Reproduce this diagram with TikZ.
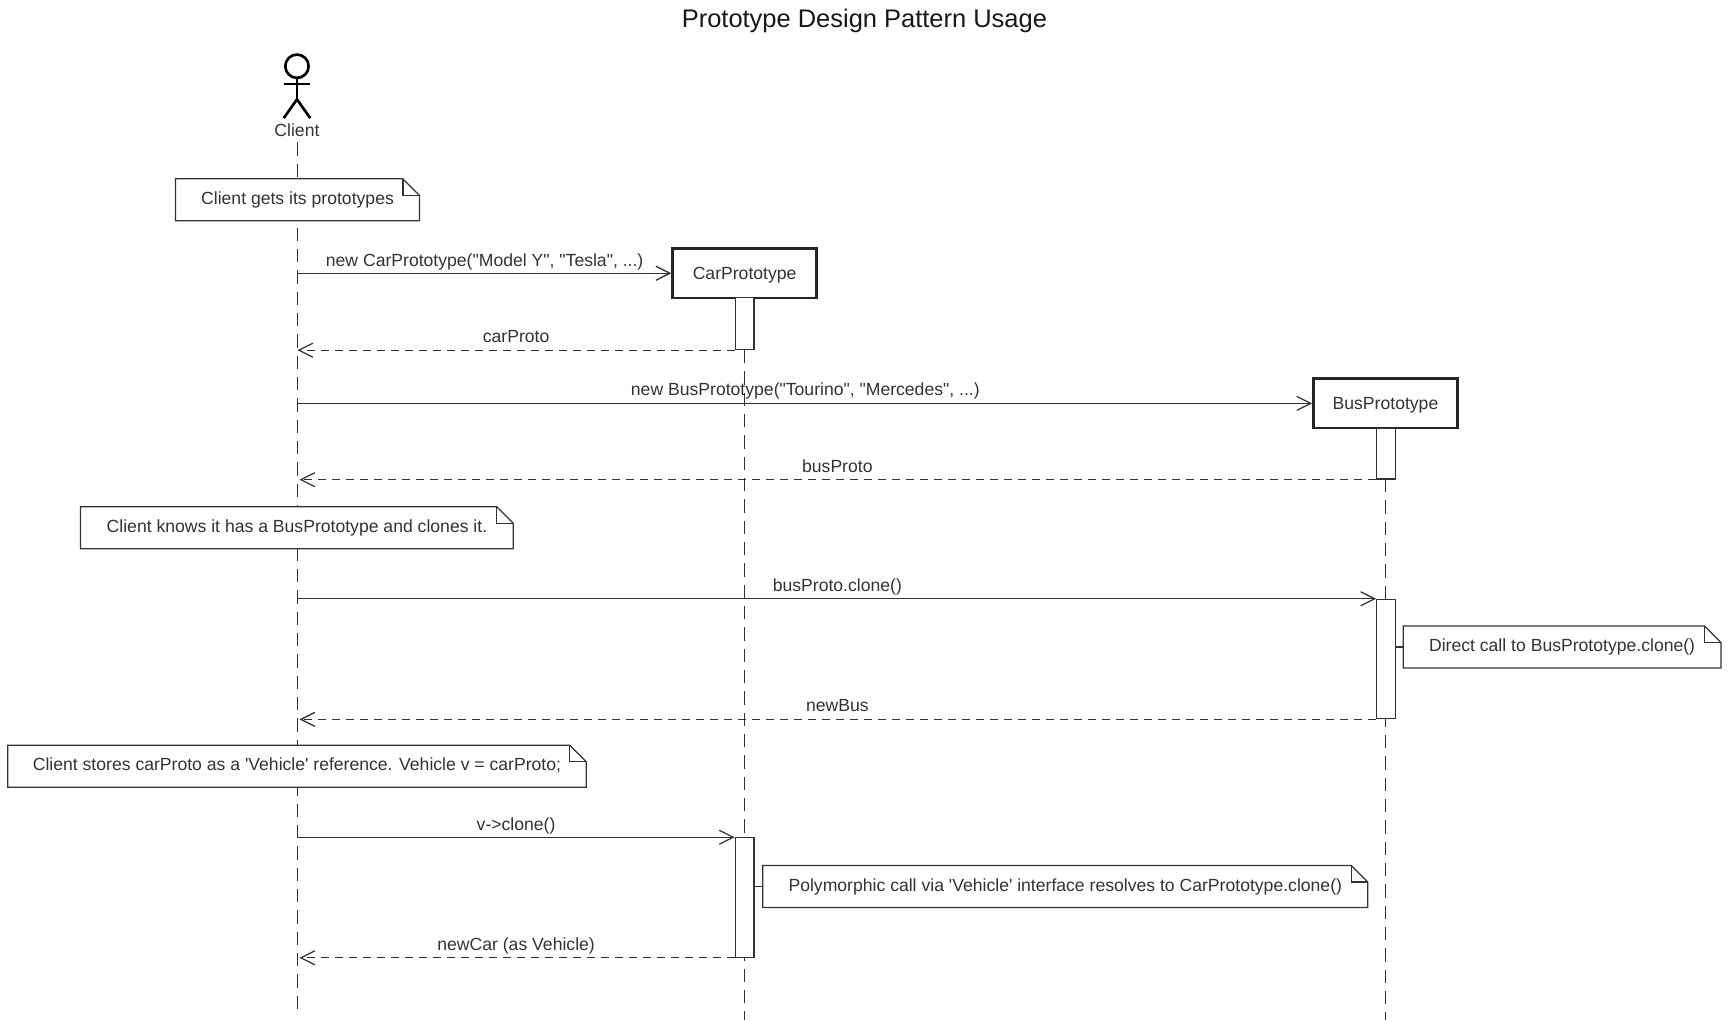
\documentclass[tikz,border=0pt]{standalone}
\usepackage{fontspec}
\setmainfont{Liberation Sans}[Ligatures=TeXOff]
\usetikzlibrary{arrows.meta}
\definecolor{ink}{HTML}{333333}
\tikzset{
  lifeline/.style={draw=ink,line width=0.8pt,dash pattern=on 10pt off 6pt},
  msg/.style={draw=ink,line width=0.95pt,-{Straight Barb[length=10.5pt,width=10.5pt,line width=0.95pt]}},
  ret/.style={draw=ink,line width=1pt,dash pattern=on 6pt off 4.5pt,-{Straight Barb[length=10.5pt,width=10.5pt,line width=0.95pt,sep=0pt]}},
  lbl/.style={text=ink,font=\fontsize{13.2pt}{15pt}\selectfont,inner sep=0pt,text height=9.5pt,text depth=2.5pt,yshift=-1.2pt},
  actbox/.style={draw=ink,fill=white,line width=0.95pt,minimum width=14pt,inner sep=0pt},
  objbox/.style={draw=black!85,fill=white,line width=2pt,minimum width=108pt,minimum height=37pt,inner sep=0pt,text=ink,font=\fontsize{13.2pt}{15pt}\selectfont,text height=12pt,text depth=2.5pt},
  notepath/.style={draw=ink,fill=white,line width=0.95pt},
  tie/.style={draw=ink,line width=0.95pt},
  stick/.style={draw=black,line width=2pt}
}
% name, x0, ytop, x1, ybottom, text
\newcommand{\umlnote}[6]{%
  \coordinate (#1 nw) at (#2,-#3);
  \coordinate (#1 se) at (#4,-#5);
  \path[notepath] (#2,-#3) -- (#4-15,-#3) -- (#4,-#3-15) -- (#4,-#5) -- (#2,-#5) -- cycle;
  \path[draw=ink,line width=0.95pt] (#4-15,-#3) -- (#4-15,-#3-15) -- (#4,-#3-15);
  \node[lbl] (#1) at ({(#2+#4)/2},{-(#3+#5)/2+1.5}) {#6};
}
\begin{document}
\begin{tikzpicture}[x=0.828pt,y=0.828pt]
\useasboundingbox (0,0) rectangle (1568,-924);
\node[text=black!90,font=\fontsize{19.1pt}{22pt}\selectfont,inner sep=0pt,text height=14pt,text depth=4pt] (title) at (783,-18.5) {Prototype Design Pattern Usage};

% anchors of the lifelines
\coordinate (clientline) at (269.45,0);
\coordinate (clientend) at (269.45,-919);
\coordinate (carend) at (674,-924);
\coordinate (busend) at (1255,-924);

% actor
\node[draw=black,line width=2pt,circle,minimum size=17.5pt,inner sep=0pt] (head) at (269,-60) {};
\coordinate (armL) at (257,-76);
\coordinate (armR) at (281,-76);
\coordinate (hip) at (269,-90);
\coordinate (legL) at (257,-107);
\coordinate (legR) at (281,-107);
\draw[stick] (head.south) -- (hip);
\draw[stick] (armL) -- (armR);
\draw[stick] (legL) -- (hip) -- (legR);
\node[lbl] (client) at (269,-118) {Client};

% lifelines
\coordinate (clientstart) at (269.45,-129);
\draw[lifeline] (clientstart) -- (clientend);
\coordinate (carstart) at (674,-317);
\draw[lifeline] (carstart) -- (carend);
\coordinate (busstart) at (1255,-434);
\draw[lifeline] (busstart) -- (busend);

% objects
\node[objbox] (carbox) at (674.5,-247.5) {CarPrototype};
\node[objbox] (busbox) at (1255,-365.4) {BusPrototype};

% activations
\node[actbox,minimum height=39pt] (caract1) at (674.5,-293.1) {};
\node[actbox,minimum height=38pt] (busact1) at (1255.5,-411) {};
\node[actbox,minimum height=89.5pt] (busact2) at (1255.5,-597) {};
\node[actbox,minimum height=89.5pt] (caract2) at (674.5,-813) {};

% notes
\umlnote{n1}{159}{162}{380}{200}{Client gets its prototypes}
\umlnote{n2}{73}{459}{465}{497}{Client knows it has a BusPrototype and clones it.}
\umlnote{n3}{1271}{567}{1559}{605}{Direct call to BusPrototype.clone()}
\umlnote{n4}{7}{675}{531}{713}{Client stores carProto as a 'Vehicle' reference. Vehicle v = carProto;}
\umlnote{n5}{691}{784}{1239}{822}{Polymorphic call via 'Vehicle' interface resolves to CarPrototype.clone()}
\draw[tie] (busact2.east |- n3) -- ++(7,0);
\draw[tie] (caract2.east |- n5) -- ++(8,0);

% messages
\draw[msg] (clientline |- carbox.west) -- (carbox.west);
\node[lbl] (m1) at (439,-236) {new CarPrototype("Model Y", "Tesla", ...)};
\draw[ret] (caract1.south west) -- (clientline |- caract1.south west);
\node[lbl] (m2) at (467.5,-305) {carProto};
\draw[msg] (clientline |- busbox.west) -- (busbox.west);
\node[lbl] (m3) at (729.5,-353) {new BusPrototype("Tourino", "Mercedes", ...)};
\draw[ret] (busact1.south west) -- ([xshift=1.5pt]clientline |- busact1.south west);
\node[lbl] (m4) at (758.5,-422.5) {busProto};
\draw[msg] (clientline |- busact2.north west) -- (busact2.north west);
\node[lbl] (m5) at (758.5,-530) {busProto.clone()};
\draw[ret] (busact2.south west) -- ([xshift=1.5pt]clientline |- busact2.south west);
\node[lbl] (m6) at (758.5,-639) {newBus};
\draw[msg] (clientline |- caract2.north west) -- (caract2.north west);
\node[lbl] (m7) at (467.5,-747) {v->clone()};
\draw[ret] (caract2.south west) -- ([xshift=1.5pt]clientline |- caract2.south west);
\node[lbl] (m8) at (467.5,-855.5) {newCar (as Vehicle)};
\end{tikzpicture}
\end{document}
